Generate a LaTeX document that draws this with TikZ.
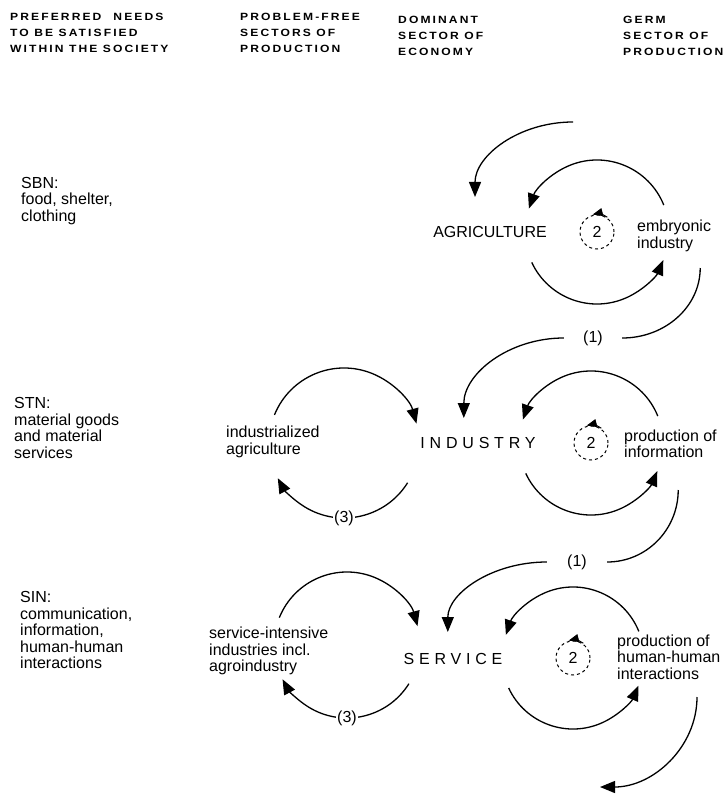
\documentclass[tikz,border=0pt]{standalone}
\usepackage{fontspec}
\setmainfont{Liberation Sans}
\newfontfamily\headfont[FakeStretch=1.15,LetterSpace=20]{Liberation Sans}
\newfontfamily\spacedfont[LetterSpace=30]{Liberation Sans}
\usetikzlibrary{arrows.meta}

\begin{document}
\begin{tikzpicture}[x=1pt,y=1pt,
  every node/.style={font=\fontsize{16}{16.5}\selectfont},
  flow/.style={line width=1.3pt,-{Triangle[length=15pt,width=12pt]}},
  plain/.style={line width=1.3pt},
  head/.style={anchor=north west,inner sep=0pt,align=left,font=\headfont\bfseries\fontsize{10.5}{16}\selectfont},
  needs/.style={anchor=west,align=left,inner sep=0pt},
  sector/.style={font=\spacedfont\fontsize{16}{16.5}\selectfont},
  germ/.style={circle,draw,dashed,line width=1pt,minimum size=34pt,inner sep=0pt}]
  \useasboundingbox (0,0) rectangle (724,-799);

  % column heads
  \node[head] (h1) at (10,-13) {PREFERRED\hspace{12pt}NEEDS\\TO BE SATISFIED\\WITHIN THE SOCIETY};
  \node[head] (h2) at (240,-13) {PROBLEM-FREE\\SECTORS OF\\PRODUCTION};
  \node[head] (h3) at (398,-16) {DOMINANT\\SECTOR OF\\ECONOMY};
  \node[head] (h4) at (623,-16) {GERM\\SECTOR OF\\PRODUCTION};

  % needs
  \node[needs] (sbn) at (21,-201) {SBN:\\food, shelter,\\clothing};
  \node[needs] (stn) at (14,-428) {STN:\\material goods\\and material\\services};
  \node[needs] (sin) at (20,-630) {SIN:\\communication,\\information,\\human-human\\interactions};

  % sectors
  \node (agri) at (490,-232) {AGRICULTURE};
  \node[sector] (indu) at (478,-443) {INDUSTRY};
  \node[sector] (serv) at (453,-659) {SERVICE};
  \node[needs] (emb) at (637,-236) {embryonic\\industry};
  \node[needs] (info) at (624,-444) {production of\\information};
  \node[needs] (human) at (617,-657) {production of\\human-human\\interactions};
  \node[needs] (inda) at (226,-442) {industrialized\\agriculture};
  \node[needs] (sia) at (209,-651) {service-intensive\\industries incl.\\agroindustry};

  % germ loops
  \node[germ] (g1) at (597,-232) {2};
  \node[germ] (g2) at (591,-443) {2};
  \node[germ] (g3) at (573,-658) {2};
  \foreach \c/\r in {g1/72,g2/72,g3/71}{
    \draw[flow] ([shift={(22:\r)}]\c.center) arc[start angle=22,end angle=161,radius=\r];
    \draw[flow] ([shift={(205:\r)}]\c.center) arc[start angle=205,end angle=337,radius=\r];
    \draw[line width=1pt,-{Triangle[length=10pt,width=8pt]}] ([shift={(55:18)}]\c.center) arc[start angle=55,end angle=104,radius=18];
  }

  % problem-free loops
  \coordinate (lc1) at (344,-443);
  \coordinate (lc2) at (347,-645);
  \foreach \c/\r in {lc1/75,lc2/73}{
    \draw[flow] ([shift={(158:\r)}]\c) arc[start angle=158,end angle=15,radius=\r];
    \draw[flow] ([shift={(-32:\r)}]\c) arc[start angle=-32,end angle=-152,radius=\r];
    \node[fill=white,inner sep=1pt] (three\c) at ([shift={(-90:\r)}]\c) {(3)};
  }

  % transitions
  \coordinate (src) at (573,-122);
  \draw[flow] (src) arc[start angle=90,end angle=180,x radius=98,y radius=75];
  \node[minimum width=58pt,inner sep=0pt] (one1) at (593,-338) {(1)};
  \draw[plain] (one1.east) arc[start angle=-90,end angle=0,x radius=78,y radius=70];
  \draw[flow] (one1.west) arc[start angle=90,end angle=180,x radius=100,y radius=80];
  \node[minimum width=60pt,inner sep=0pt] (one2) at (577,-562) {(1)};
  \draw[plain] (one2.east) arc[start angle=-90,end angle=0,x radius=71,y radius=72];
  \draw[flow] (one2.west) arc[start angle=90,end angle=180,x radius=99,y radius=70];
  \coordinate (out) at (697,-697);
  \draw[flow] (out) arc[start angle=0,end angle=-90,x radius=97,y radius=90];
\end{tikzpicture}
\end{document}
